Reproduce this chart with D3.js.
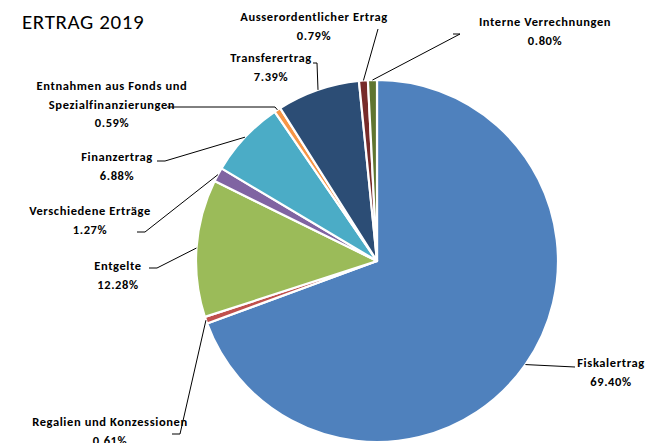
<!DOCTYPE html>
<html>
<head>
<meta charset="utf-8">
<script src="https://cdn.jsdelivr.net/npm/d3@7"></script>
<style>
  body { margin: 0; background: #fff; }
  svg { display: block; }
  .lbl { font-family: Carlito, Calibri, Lato, sans-serif; font-weight: bold; font-size: 12.5px; letter-spacing: 0.6px; fill: #000; }
  .title { font-family: Carlito, Calibri, Lato, sans-serif; font-size: 21px; letter-spacing: 0.6px; fill: #000; }
</style>
</head>
<body>
<svg id="chart" width="657" height="443"></svg>
<script>
// values, clockwise from 12 o'clock
const categories = [
	'Fiskalertrag',
	'Regalien und Konzessionen',
	'Entgelte',
	'Verschiedene Erträge',
	'Finanzertrag',
	'Entnahmen aus Fonds und|Spezialfinanzierungen',
	'Transferertrag',
	'Ausserordentlicher Ertrag',
	'Interne Verrechnungen'
];
const shares = [69.40, 0.61, 12.28, 1.27, 6.88, 0.59, 7.39, 0.79, 0.80];
const sliceColors = ['#4F81BD', '#C0504D', '#9BBB59', '#8064A2', '#4BACC6', '#F79646', '#2C4D75', '#772C2A', '#5F7530'];

// where each label sits (centre of first line) and the bends of its leader
const labelLayout = [
	{ x: 611, y: 363, leader: [[575, 367]] },
	{ x: 110, y: 422, leader: [[180, 434], [172, 434]] },
	{ x: 118, y: 266, leader: [[157, 268], [149, 268]] },
	{ x: 90, y: 211, leader: [[145, 232], [137, 232]] },
	{ x: 117, y: 157, leader: [[165, 161], [157, 161]] },
	{ x: 112, y: 86, leader: [[275, 107], [167, 107]] },
	{ x: 271, y: 58, leader: [[317, 63], [313, 63]] },
	{ x: 314, y: 17, leader: [[378, 29]] },
	{ x: 545, y: 22, leader: [[460, 34], [453, 34]] }
];

const cx = 377;
const cy = 261;
const radius = 181;
const lineH = 18.5;

const svg = d3.select('#chart');

svg.append('text')
	.attr('class', 'title')
	.attr('x', 22)
	.attr('y', 29)
	.text('ERTRAG 2019');

const pie = d3.pie().sort(null).value(d => d.value);
const arc = d3.arc().innerRadius(0).outerRadius(radius);
const edge = d3.arc().innerRadius(radius).outerRadius(radius);

const slices = pie(categories.map((c, i) => ({ name: c, value: shares[i], i })));

const g = svg.append('g').attr('transform', `translate(${cx},${cy})`);

g.selectAll('path.slice')
	.data(slices)
	.enter()
	.append('path')
	.attr('class', 'slice')
	.attr('d', arc)
	.attr('fill', d => sliceColors[d.data.i])
	.attr('stroke', '#fff')
	.attr('stroke-width', 2.2)
	.attr('stroke-linejoin', 'round');

// leader lines
const line = d3.line();
svg.selectAll('path.leader')
	.data(slices)
	.enter()
	.append('path')
	.attr('class', 'leader')
	.attr('d', d => {
		const c = edge.centroid(d);
		const pts = [[c[0] + cx, c[1] + cy]].concat(labelLayout[d.data.i].leader);
		return line(pts);
	})
	.attr('fill', 'none')
	.attr('stroke', '#000')
	.attr('stroke-width', 1);

// labels
const labels = svg.selectAll('text.lbl')
	.data(slices)
	.enter()
	.append('text')
	.attr('class', 'lbl')
	.attr('text-anchor', 'middle')
	.attr('x', d => labelLayout[d.data.i].x)
	.attr('y', d => labelLayout[d.data.i].y);

labels.each(function(d) {
	const lines = d.data.name.split('|').concat([d.data.value.toFixed(2) + '%']);
	const t = d3.select(this);
	lines.forEach((s, k) => {
		t.append('tspan')
			.attr('x', labelLayout[d.data.i].x)
			.attr('dy', k === 0 ? '0.35em' : lineH)
			.text(s);
	});
});
</script>
</body>
</html>
